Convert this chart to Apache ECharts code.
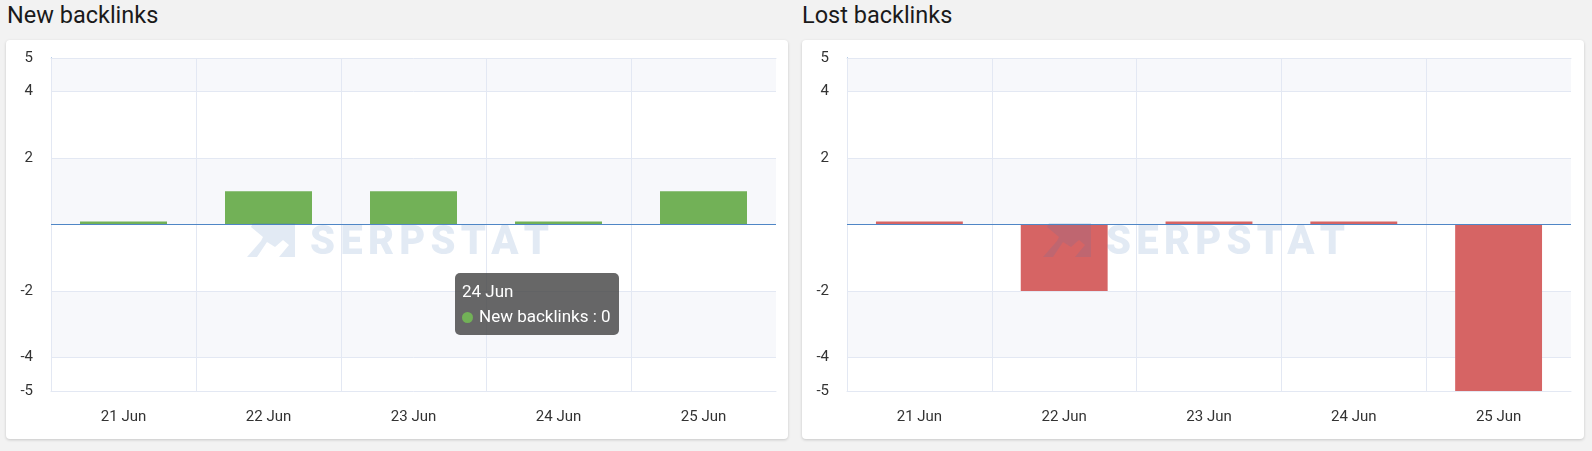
<!DOCTYPE html>
<html><head><meta charset="utf-8">
<script src="https://cdn.jsdelivr.net/npm/echarts@6/dist/echarts.min.js"></script>
<style>
html,body{margin:0;padding:0;background:#f2f2f2;width:1592px;height:451px;overflow:hidden;font-family:Roboto,sans-serif}
.card{position:absolute;top:40px;height:399px;width:782px;background:#fff;border-radius:4px;box-shadow:0 1px 3px rgba(0,0,0,0.18)}
.title{position:absolute;top:1px;font-size:23.5px;color:#1a1a1a;line-height:28px}
#chart{position:absolute;left:0;top:0;width:1592px;height:451px}
</style></head><body>
<div class="title" style="left:7px">New backlinks</div>
<div class="title" style="left:802px">Lost backlinks</div>
<div class="card" style="left:6px"></div>
<div class="card" style="left:802px"></div>
<div id="chart"></div>
<script>
const categories = ['21 Jun', '22 Jun', '23 Jun', '24 Jun', '25 Jun'];
const newBacklinks = [0, 1, 1, 0, 1];
const lostBacklinks = [0, -2, 0, 0, -5];
const yMin = -5, yMax = 5;
const yTickLabels = [5, 4, 2, -2, -4, -5];

const blue = '#4f86c6';
const gridCol = '#e3e8f3';
const bandCol = '#f7f8fb';

function xAx(i){
  return {type:'category', gridIndex:i, data:categories, z:2,
    axisLine:{show:true, onZero:false, lineStyle:{color:gridCol}}, axisTick:{show:false},
    axisLabel:{color:'#333', fontSize:15, margin:19, fontFamily:'Roboto'},
    splitLine:{show:true, showMaxLine:false, lineStyle:{color:gridCol}}};
}
function xAxTop(i){
  return {type:'category', gridIndex:i, data:categories, position:'top', z:2,
    axisLine:{show:true, onZero:false, lineStyle:{color:gridCol}}, axisTick:{show:false},
    axisLabel:{show:false}, splitLine:{show:false}};
}
function yAx(i){
  return {type:'value', gridIndex:i, min:yMin, max:yMax, interval:1, z:1,
    axisLine:{show:true, lineStyle:{color:blue}}, axisTick:{show:false},
    axisLabel:{color:'#333', fontSize:15, margin:18, fontFamily:'Roboto',
      formatter:v=> yTickLabels.indexOf(v) >= 0 ? String(v) : ''},
    splitLine:{show:true, lineStyle:{color:['rgba(0,0,0,0)', gridCol]}},
    splitArea:{show:true, areaStyle:{color:['#ffffff', bandCol, bandCol, '#ffffff']}}};
}
function zeroLine(){
  return {silent:true, symbol:'none', label:{show:false}, lineStyle:{color:blue, type:'solid', width:1.2}, data:[{yAxis:0}]};
}

// watermark letters laid out with measured widths
const wmFont = '900 40px Roboto';
const wmFill = 'rgba(60,115,180,0.15)';
function watermark(x0, y0){
  let widths;
  try {
    const c = document.createElement('canvas').getContext('2d');
    c.font = wmFont;
    widths = 'SERPSTAT'.split('').map(ch => c.measureText(ch).width);
  } catch(e) { widths = [26,24,27,27,26,24,28,24]; }
  const total = widths.reduce((a,b)=>a+b,0);
  const gap = (239 - total) / 7;
  const els = [
    {type:'polygon', x:x0, y:y0, z:100, silent:true,
      shape:{points:[[6,0],[48,0],[48,34],[32,34],[42,22],[36,17],[28,24],[20,19],[10,34],[0,34],[14,18],[16,14],[4,4]]},
      style:{fill:wmFill}}
  ];
  let cx = x0 + 63;
  'SERPSTAT'.split('').forEach((ch,i)=>{
    els.push({type:'text', x:cx, y:y0 + 0.5, z:100, silent:true,
      style:{text:ch, font:wmFont, fill:wmFill, verticalAlign:'top', align:'left'}});
    cx += widths[i] + gap;
  });
  return els;
}

const chart = echarts.init(document.getElementById('chart'), null, {renderer:'canvas'});
chart.setOption({
  animation:false,
  textStyle:{fontFamily:'Roboto'},
  grid:[{left:51, top:58, width:725, height:333}, {left:847, top:58, width:724, height:333}],
  xAxis:[xAx(0), xAx(1), xAxTop(0), xAxTop(1)],
  yAxis:[yAx(0), yAx(1)],
  tooltip:{trigger:'item', triggerOn:'none', alwaysShowContent:true, position:[455,273],
    backgroundColor:'rgba(70,70,70,0.82)', borderWidth:0, borderRadius:5, padding:[6,8,6,7],
    extraCssText:'box-shadow:none;line-height:25px;',
    textStyle:{color:'#fff', fontSize:17, fontFamily:'Roboto'},
    formatter:p=> p.name + '<br/><span style="display:inline-block;width:11px;height:11px;border-radius:6px;background:'+p.color+';margin-right:6px;vertical-align:-1px;"></span>' + p.seriesName + ' : ' + p.value},
  series:[
    {name:'New backlinks', type:'bar', xAxisIndex:0, yAxisIndex:0, data:newBacklinks, barWidth:'60%', barMinHeight:3, z:4,
      itemStyle:{color:'#72b157'}, markLine:zeroLine()},
    {name:'Lost backlinks', type:'bar', xAxisIndex:1, yAxisIndex:1, data:lostBacklinks, barWidth:'60%', barMinHeight:3, z:4,
      itemStyle:{color:'#d66464'}, markLine:zeroLine()}
  ]
});
chart.setOption({graphic:{elements: watermark(247, 223).concat(watermark(1043, 223))}});
chart.dispatchAction({type:'showTip', seriesIndex:0, dataIndex:3});
</script>
</body></html>
